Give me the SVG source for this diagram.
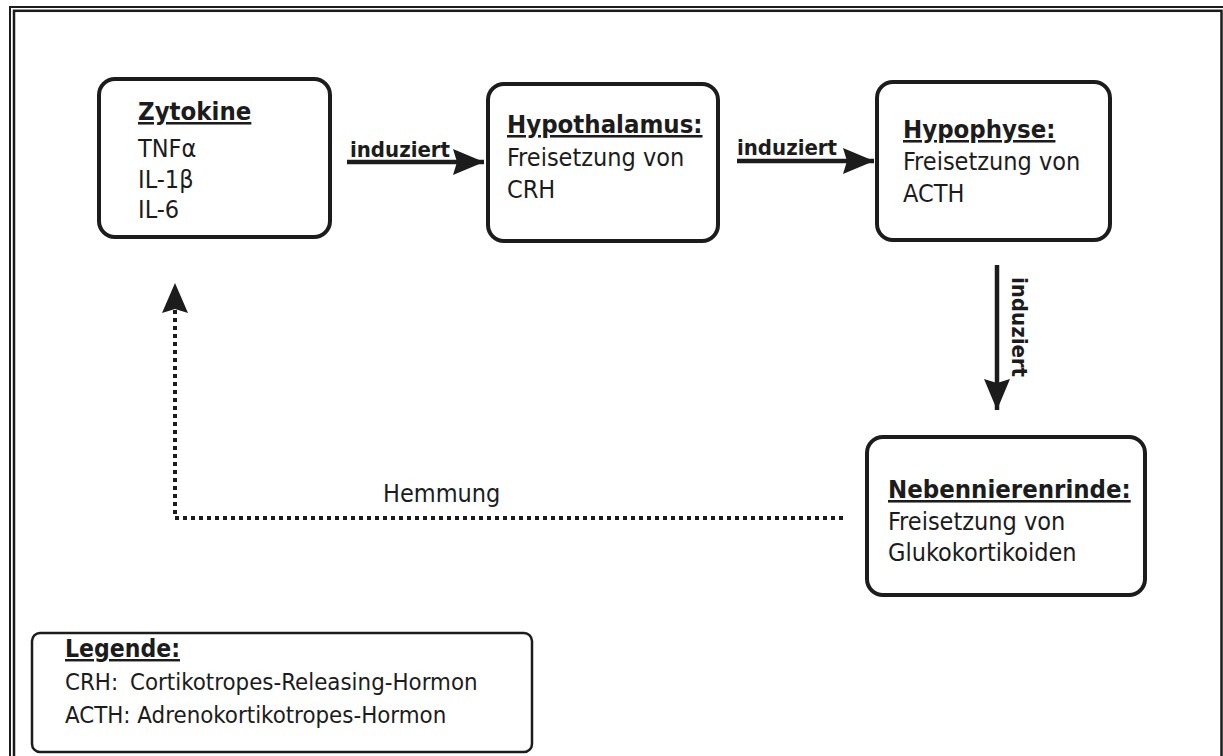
<svg xmlns="http://www.w3.org/2000/svg" width="1223" height="756" viewBox="0 0 1223 756">
<style>
.box{fill:#fff;stroke:#1c1c1c;stroke-width:4}
.t{font-family:"DejaVu Sans Condensed","DejaVu Sans",sans-serif;font-size:25px;fill:#1c1c1c}
.h{font-family:"DejaVu Sans Condensed","DejaVu Sans",sans-serif;font-size:25.5px;font-weight:bold;fill:#1c1c1c;text-decoration:underline}
.lbl{font-family:"DejaVu Sans Condensed","DejaVu Sans",sans-serif;font-size:22px;font-weight:bold;fill:#1c1c1c}
.lg{font-size:23.8px}
.solid{fill:none;stroke:#1c1c1c;stroke-width:4.5}
.dot{fill:none;stroke:#1c1c1c;stroke-width:4;stroke-dasharray:4 4}
</style>
<defs>
<marker id="ah" markerUnits="userSpaceOnUse" viewBox="0 0 31 26" refX="31" refY="13" markerWidth="31" markerHeight="26" orient="auto">
<path d="M0,0 L31,13 L0,26 L4,13 Z" fill="#1c1c1c"/>
</marker>
</defs>
<rect width="1223" height="756" fill="#fff"/>
<g id="frame" fill="none" stroke="#1c1c1c">
<rect x="10" y="7" width="1260" height="800" stroke-width="2"/>
<rect x="14" y="10.8" width="1207.5" height="800" stroke-width="2.5"/>
</g>
<g id="connectors">
<line class="solid" x1="347" y1="162" x2="484" y2="162" marker-end="url(#ah)"/>
<text class="lbl" x="350" y="157">induziert</text>
<line class="solid" x1="737" y1="161" x2="874" y2="161" marker-end="url(#ah)"/>
<text class="lbl" x="737" y="155">induziert</text>
<line class="solid" x1="997" y1="265" x2="997" y2="410" marker-end="url(#ah)"/>
<text class="lbl" transform="translate(1012,277) rotate(90)">induziert</text>
<polyline class="dot" points="843,518 175,518 175,300"/>
<path d="M162,313 L175,283 L188,313 L175,309 Z" fill="#1c1c1c"/>
<text class="t" x="383" y="502">Hemmung</text>
</g>
<g id="zytokine">
<rect class="box" x="99" y="79" width="231" height="158" rx="16"/>
<text class="h" x="138" y="120">Zytokine</text>
<text class="t" x="138" y="157">TNFα</text>
<text class="t" x="138" y="188">IL-1β</text>
<text class="t" x="138" y="218">IL-6</text>
</g>
<g id="hypothalamus">
<rect class="box" x="488" y="84" width="230" height="157" rx="16"/>
<text class="h" x="507" y="133">Hypothalamus:</text>
<text class="t" x="507" y="166">Freisetzung von</text>
<text class="t" x="507" y="198">CRH</text>
</g>
<g id="hypophyse">
<rect class="box" x="877" y="82" width="233" height="158" rx="16"/>
<text class="h" x="903" y="138">Hypophyse:</text>
<text class="t" x="903" y="170">Freisetzung von</text>
<text class="t" x="903" y="202">ACTH</text>
</g>
<g id="nebennierenrinde">
<rect class="box" x="867" y="437" width="278" height="158" rx="16"/>
<text class="h" x="888" y="498">Nebennierenrinde:</text>
<text class="t" x="888" y="530">Freisetzung von</text>
<text class="t" x="888" y="561">Glukokortikoiden</text>
</g>
<g id="legende">
<rect x="32" y="633" width="500" height="119" rx="8" fill="#fff" stroke="#1c1c1c" stroke-width="2.5"/>
<text class="h" x="65" y="657" style="font-size:24.5px">Legende:</text>
<text class="t lg" x="65" y="690">CRH:</text>
<text class="t lg" x="130" y="690">Cortikotropes-Releasing-Hormon</text>
<text class="t lg" x="65" y="723">ACTH: Adrenokortikotropes-Hormon</text>
</g>
</svg>
